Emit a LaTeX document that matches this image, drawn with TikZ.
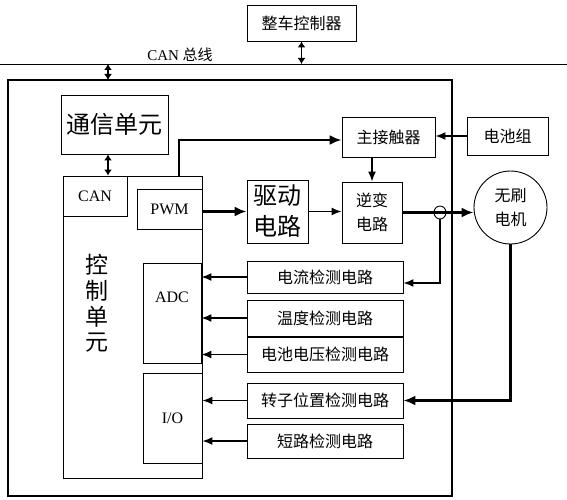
\documentclass[tikz,border=0pt]{standalone}
\usepackage{fontspec}
\setmainfont{Liberation Serif}
\newfontfamily\cjk{Noto Sans CJK SC}
\usetikzlibrary{shapes.geometric,arrows.meta}

\begin{document}
\begin{tikzpicture}[x=1pt,y=-1pt,
  box/.style={draw,line width=0.9pt,inner sep=0pt,align=center,font=\cjk\fontsize{16}{24}\selectfont},
  sense/.style={box,minimum width=156pt,font=\cjk\fontsize{16}{18}\selectfont},
  port/.style={box,font=\fontsize{16}{18}\selectfont},
  arr/.style={-{Latex[length=10pt,width=8pt]},line width=1.5pt},
  thickarr/.style={-{Latex[length=12pt,width=10pt]},line width=2.4pt},
  dbl/.style={{Latex[length=6pt,width=8pt]}-{Latex[length=6pt,width=8pt]},line width=1.8pt}
]
\useasboundingbox (0,0) rectangle (567,500);

% bus and vehicle controller
\coordinate (busL) at (0,64);
\coordinate (busR) at (567,64);
\draw[line width=0.9pt] (busL) -- (busR);
\node[font=\fontsize{15}{17}\selectfont] (buslabel) at (180,55) {CAN {\cjk 总线}};
\node[box,minimum width=109pt,minimum height=36pt] (vcu) at (301.5,23) {整车控制器};

% controller housing
\draw[line width=2pt] (8,80) rectangle (452,496);
\coordinate (outT) at (108,80);
\coordinate (pwmup) at (179,140);

\node[box,minimum width=107pt,minimum height=59pt,font=\cjk\fontsize{24}{26}\selectfont] (comm) at (114.5,124.5) {通信单元};
\node[box,minimum width=139pt,minimum height=302pt] (ctrl) at (132.5,327) {};
\node[font=\cjk\fontsize{23}{25.7}\selectfont,align=center] (ctrltext) at (97,303.5) {控\\制\\单\\元};
\node[port,minimum width=64pt,minimum height=40pt] (can) at (95,196) {CAN};
\node[port,minimum width=65pt,minimum height=40pt] (pwm) at (169.5,209) {PWM};
\node[port,minimum width=58pt,minimum height=100pt] (adc) at (172,313) {ADC\\[14pt]};
\node[port,minimum width=59pt,minimum height=90pt] (io) at (172.5,418) {I/O};

\node[box,minimum width=61pt,minimum height=63pt,font=\cjk\fontsize{24}{31}\selectfont] (drive) at (277.5,211.5) {驱动\\电路};
\node[box,minimum width=93pt,minimum height=40pt] (contactor) at (388.5,137) {主接触器};
\node[box,minimum width=81pt,minimum height=38pt] (battery) at (507.5,136) {电池组};
\node[box,minimum width=60pt,minimum height=61pt] (inverter) at (372,212.5) {逆变\\电路};
\node[box,circle,minimum size=73pt] (motor) at (510.5,207.5) {无刷\\电机};

\node[sense,minimum height=32pt] (cur) at (325,277) {电流检测电路};
\node[sense,minimum height=36pt] (temp) at (325,318) {温度检测电路};
\node[sense,minimum height=35pt] (volt) at (325,354.5) {电池电压检测电路};
\node[sense,minimum height=35pt] (rotor) at (325,400.5) {转子位置检测电路};
\node[sense,minimum height=34pt] (short) at (325,441) {短路检测电路};

% connectors
\draw[dbl] (vcu.south) -- (vcu.south |- busL);
\draw[dbl] (busL -| outT) -- (outT);
\draw[dbl] (comm.south -| outT) -- (ctrl.north -| outT);
\draw[thickarr] (ctrl.north -| pwmup) -- (pwmup) -- (pwmup -| contactor.west);
\draw[arr] (battery.west) -- (battery.west -| contactor.east);
\draw[arr] (contactor.south -| inverter.north) -- (inverter.north);
\draw[thickarr] (pwm.east |- drive.west) -- (drive.west);
\draw[arr] (drive.east) -- (drive.east -| inverter.west);
\draw[thickarr] (inverter.east) -- (inverter.east -| motor.west);
\node[draw,ellipse,line width=0.9pt,minimum width=12pt,minimum height=13pt,inner sep=0pt] (sensor) at (440,212.5) {};
\draw[arr] (sensor.south) |- ([yshift=-6pt]cur.east);
\draw[thickarr] (motor.south) |- (rotor.east);
\foreach \s/\t in {cur/adc,temp/adc,volt/adc,rotor/io,short/io}
  \draw[arr] (\s.west) -- (\s.west -| \t.east);
\end{tikzpicture}
\end{document}
